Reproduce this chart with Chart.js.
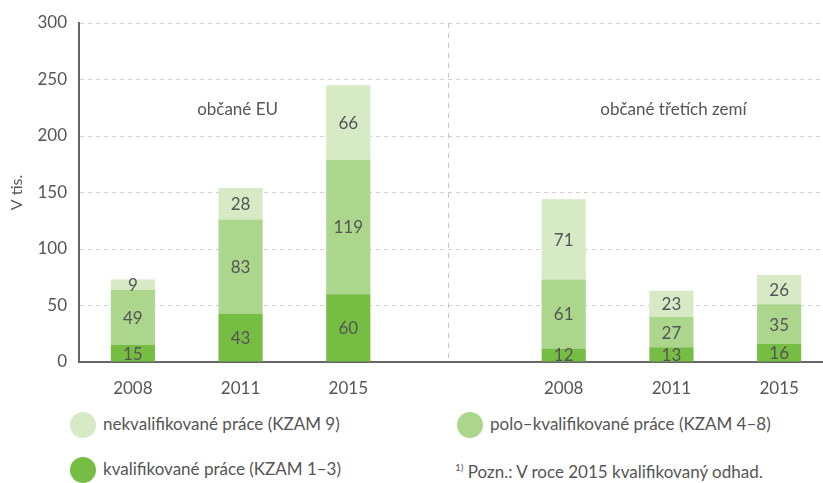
<!DOCTYPE html>
<html>
<head>
<meta charset="utf-8">
<script src="https://cdn.jsdelivr.net/npm/chart.js@4/dist/chart.umd.min.js"></script>
<style>
    body { margin: 0; background: #fff; overflow: hidden; width: 823px; height: 483px; }
    #wrap { position: absolute; left: 0; top: 0; width: 833px; height: 400px; }
    .legend { position: absolute; font-family: Lato, sans-serif; font-size: 17px; color: #555; white-space: nowrap; }
    .legend .dot { position: absolute; width: 26px; height: 26px; border-radius: 50%; left: 0; top: -13px; }
    .legend .txt { position: absolute; left: 33px; top: -11px; line-height: 20px; }
    .note { position: absolute; left: 455px; top: 461px; font-family: Lato, sans-serif; font-size: 17px; color: #555; white-space: nowrap; }
    .note sup { font-size: 10px; vertical-align: 7px; }
</style>
</head>
<body>
<div id="wrap"><canvas id="chart" width="833" height="400"></canvas></div>
<div class="legend" style="left:70px; top:425px;"><span class="dot" style="background:#d6eac6"></span><span class="txt">nekvalifikované práce (KZAM 9)</span></div>
<div class="legend" style="left:457px; top:425px;"><span class="dot" style="background:#acd68c"></span><span class="txt">polo–kvalifikované práce (KZAM 4–8)</span></div>
<div class="legend" style="left:70px; top:470px;"><span class="dot" style="background:#76bd43"></span><span class="txt">kvalifikované práce (KZAM 1–3)</span></div>
<div class="note"><sup>1)</sup> Pozn.: V roce 2015 kvalifikovaný odhad.</div>
<script>
const years = ['2008', '2011', '2015'];
const groups = ['občané EU', 'občané třetích zemí'];

// EU citizens
const euKval = [15, 43, 60];
const euPolo = [49, 83, 119];
const euNekval = [9, 28, 66];

// third-country citizens
const thirdKval = [12, 13, 16];
const thirdPolo = [61, 27, 35];
const thirdNekval = [71, 23, 26];

const yTicks = [0, 50, 100, 150, 200, 250, 300];

const labels = [...years, '', ...years];
const join = (a, b) => [...a, null, ...b];

const textColor = '#555';
const font = 'Lato, sans-serif';

const valueLabels = {
    id: 'valueLabels',
    afterDatasetsDraw(chart) {
        const ctx = chart.ctx;
        ctx.save();
        ctx.font = '17px ' + font;
        ctx.fillStyle = textColor;
        ctx.textAlign = 'center';
        ctx.textBaseline = 'middle';
        chart.data.datasets.forEach((ds, i) => {
            chart.getDatasetMeta(i).data.forEach((bar, j) => {
                const v = ds.data[j];
                if (v == null) return;
                const p = bar.getCenterPoint();
                ctx.fillText(v, p.x, p.y + 1);
            });
        });
        ctx.restore();
    }
};

const groupLabels = {
    id: 'groupLabels',
    beforeDatasetsDraw(chart) {
        const { ctx, chartArea, scales: { x } } = chart;
        // dashed divider between the two groups
        const step = x.getPixelForValue(4) - x.getPixelForValue(3);
        const dx = x.getPixelForValue(3) - step * 0.075;
        ctx.save();
        ctx.strokeStyle = '#c8c8c8';
        ctx.lineWidth = 1;
        ctx.setLineDash([5, 5]);
        ctx.beginPath();
        ctx.moveTo(Math.round(dx) + 0.5, chartArea.top);
        ctx.lineTo(Math.round(dx) + 0.5, chartArea.bottom);
        ctx.stroke();
        ctx.restore();
    },
    afterDatasetsDraw(chart) {
        const { ctx, scales: { x, y } } = chart;
        ctx.save();
        ctx.font = '17px ' + font;
        ctx.fillStyle = textColor;
        ctx.textAlign = 'center';
        ctx.textBaseline = 'middle';
        ctx.fillText(groups[0], x.getPixelForValue(1) - 3, y.getPixelForValue(223));
        ctx.fillText(groups[1], x.getPixelForValue(5) + 2, y.getPixelForValue(223));
        ctx.restore();
    }
};

new Chart(document.getElementById('chart'), {
    type: 'bar',
    data: {
        labels: labels,
        datasets: [
            { label: 'kvalifikované práce (KZAM 1–3)', data: join(euKval, thirdKval), backgroundColor: '#76bd43' },
            { label: 'polo–kvalifikované práce (KZAM 4–8)', data: join(euPolo, thirdPolo), backgroundColor: '#acd68c' },
            { label: 'nekvalifikované práce (KZAM 9)', data: join(euNekval, thirdNekval), backgroundColor: '#d6eac6' }
        ]
    },
    options: {
        responsive: false,
        animation: false,
        layout: { padding: { top: 23, right: 0, left: 0, bottom: 0 } },
        datasets: { bar: { categoryPercentage: 1, barPercentage: 0.41, borderWidth: 0 } },
        plugins: {
            legend: { display: false },
            tooltip: { enabled: false }
        },
        scales: {
            x: {
                stacked: true,
                grid: { display: false },
                border: { display: true, color: '#666', width: 2 },
                ticks: { color: textColor, font: { family: font, size: 17 }, padding: 8 },
                afterFit(scale) { scale.height = 38; }
            },
            y: {
                stacked: true,
                min: 0,
                max: 300,
                afterBuildTicks(scale) { scale.ticks = yTicks.map(v => ({ value: v })); },
                grid: { color: '#cfcfcf', lineWidth: 1, drawTicks: false },
                border: { display: true, color: '#666', width: 2, dash: [4, 4] },
                ticks: { color: textColor, font: { family: font, size: 17 }, padding: 12 },
                title: { display: true, text: 'V tis.', color: textColor, font: { family: font, size: 16 }, padding: { top: 7, bottom: 0 } },
                afterFit(scale) { scale.width = 79; }
            }
        }
    },
    plugins: [groupLabels, valueLabels]
});
</script>
</body>
</html>
